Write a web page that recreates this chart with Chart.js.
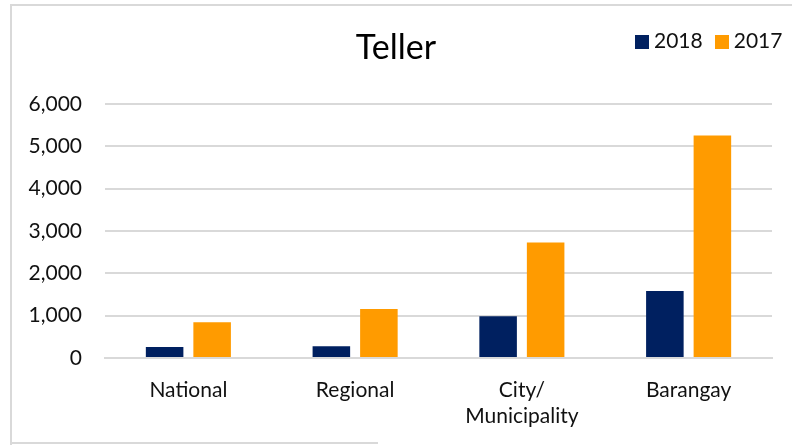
<!DOCTYPE html>
<html>
<head>
<meta charset="utf-8">
<script src="https://cdn.jsdelivr.net/npm/chart.js@4"></script>
<style>
  html, body { margin: 0; padding: 0; background: #fff; }
  #wrap { position: relative; width: 792px; height: 445px; overflow: hidden; font-family: Lato, sans-serif; }
  #chart { position: absolute; left: 0; top: 0; }
  .line { position: absolute; background: #d9d9d9; }
  #legend { position: absolute; top: 27px; left: 635px; font-size: 21px; color: #111; white-space: nowrap; }
  #legend span.box { display: inline-block; width: 14px; height: 14px; margin-right: 5px; vertical-align: -1px; }
  #legend span.item { margin-right: 12px; }
</style>
</head>
<body>
<div id="wrap">
  <canvas id="chart" width="792" height="445"></canvas>
  <div class="line" style="left:10px; top:4px; width:782px; height:2px;"></div>
  <div class="line" style="left:10px; top:4px; width:2px; height:441px;"></div>
  <div class="line" style="left:10px; top:442px; width:368px; height:2px;"></div>
  <div id="legend">
    <span class="item"><span class="box" style="background:#002060"></span>2018</span><span><span class="box" style="background:#ff9b00"></span>2017</span>
  </div>
</div>
<script>
const categories = ['National', 'Regional', ['City/', 'Municipality'], 'Barangay'];
const values2018 = [260, 277, 986, 1584];
const values2017 = [845, 1158, 2726, 5250];
const yTicks = [0, 1000, 2000, 3000, 4000, 5000, 6000];

const ctx = document.getElementById('chart');
new Chart(ctx, {
  type: 'bar',
  data: {
    labels: categories,
    datasets: [
      {
        label: '2018',
        data: values2018,
        backgroundColor: '#002060',
        categoryPercentage: 0.57,
        barPercentage: 0.79
      },
      {
        label: '2017',
        data: values2017,
        backgroundColor: '#ff9b00',
        categoryPercentage: 0.57,
        barPercentage: 0.79
      }
    ]
  },
  options: {
    responsive: false,
    animation: false,
    layout: { padding: { left: 20, right: 20, top: 0, bottom: 0 } },
    plugins: {
      legend: { display: false },
      tooltip: { enabled: false },
      title: {
        display: true,
        text: 'Teller',
        color: '#000',
        font: { family: 'Lato', size: 34, weight: 'normal' },
        padding: { top: 28, bottom: 35 }
      }
    },
    scales: {
      x: {
        grid: { display: false },
        border: { color: '#d9d9d9', width: 2 },
        ticks: {
          color: '#111',
          padding: 11,
          maxRotation: 0,
          font: { family: 'Lato', size: 21, lineHeight: 1.25 }
        },
        afterFit: s => { s.height = 87; }
      },
      y: {
        min: 0,
        max: 6000,
        afterBuildTicks: s => { s.ticks = yTicks.map(v => ({ value: v })); },
        grid: { color: '#d9d9d9', lineWidth: 2, drawTicks: false },
        border: { display: false },
        ticks: {
          color: '#111',
          padding: 23,
          font: { family: 'Lato', size: 21 },
          callback: v => v.toLocaleString('en-US')
        },
        afterFit: s => { s.width = 85; }
      }
    }
  }
});
</script>
</body>
</html>
